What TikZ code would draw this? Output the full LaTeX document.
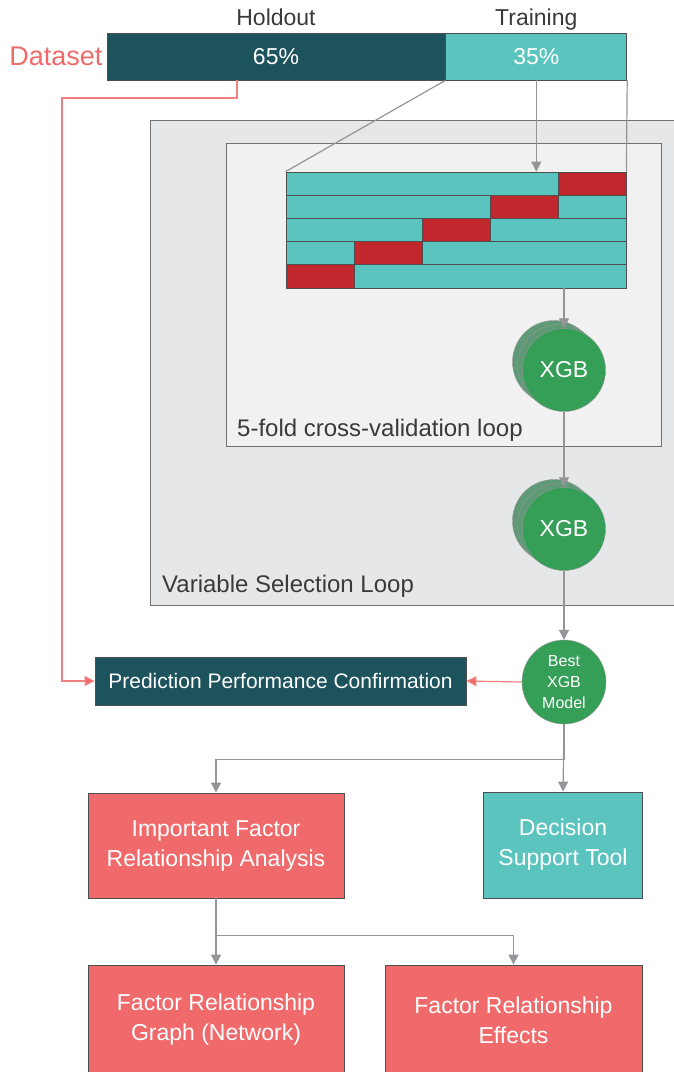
\documentclass[tikz,border=0pt]{standalone}
\usepackage{fontspec}
\setmainfont{Liberation Sans}
\usetikzlibrary{positioning,arrows.meta}
\definecolor{holdcol}{HTML}{1D535C}
\definecolor{traincol}{HTML}{5BC4BE}
\definecolor{foldcol}{HTML}{C1272D}
\definecolor{factcol}{HTML}{F06A6B}
\definecolor{xgbcol}{HTML}{359E57}
\definecolor{xgbback}{HTML}{5E9A75}
\definecolor{outercol}{HTML}{E6E7E9}
\definecolor{innercol}{HTML}{F1F1F1}
\definecolor{linecol}{HTML}{939598}
\definecolor{edgecol}{HTML}{4D4E50}
\definecolor{labelcol}{HTML}{3A3A3A}
\tikzset{barnode/.style={draw=edgecol, thick, text=white, font=\fontsize{23}{26}\selectfont, minimum height=47pt, inner sep=0pt},
toplabel/.style={text=labelcol, font=\fontsize{23}{26}\selectfont, text height=17pt, text depth=5pt, inner sep=0pt},
fold/.style={draw=edgecol, thick, minimum width=68pt, minimum height=23.2pt, inner sep=0pt},
loopbox/.style={draw=edgecol!80, thick, inner sep=0pt},
looptext/.style={text=labelcol, font=\fontsize{24}{26}\selectfont, inner sep=0pt},
xgbnode/.style={circle, draw=edgecol!60, fill=xgbcol, text=white, minimum size=83pt, inner sep=0pt, font=\fontsize{23}{26}\selectfont},
flowbox/.style={draw=edgecol, thick, text=white, align=center, inner sep=0pt, font=\fontsize{23}{30}\selectfont},
grayline/.style={draw=linecol, line width=1.2pt},
grayarrow/.style={draw=linecol, line width=1.2pt, -{Triangle[width=10pt,length=10pt]}},
redarrow/.style={draw=factcol!85, line width=1.2pt, -{Triangle[width=10pt,length=10pt,fill=factcol]}},}
\begin{document}
\begin{tikzpicture}[x=1pt,y=-1pt]
\useasboundingbox (0,0) rectangle (673,1072);
\node [loopbox, fill=outercol, minimum width=540pt, minimum height=485pt] (varloop) at (420,362.5) {};
\node [loopbox, fill=innercol, minimum width=435pt, minimum height=303pt] (cvloop) at (443.5,294.5) {};
\node [looptext, anchor=base west] (cvtext) at (237,436) {5-fold cross-validation loop};
\node [looptext, anchor=base west] (vartext) at (162,592) {Variable Selection Loop};

\node [barnode, fill=holdcol, minimum width=338pt] (hold) at (276,56.5) {65\%};
\node [barnode, fill=traincol, minimum width=181pt, right=0pt of hold] (train) {35\%};
\node [toplabel, above=2pt of hold] (holdlbl) {Holdout};
\node [toplabel, above=2pt of train] (trainlbl) {Training};
\node [text=factcol, font=\fontsize{27}{30}\selectfont, inner sep=0pt, left=4pt of hold] (datalbl) {Dataset};

\foreach \r in {1,...,5}{
  \node [fold, fill=traincol, minimum width=340pt] (cv\r) at (456,160.4+23.2*\r) {};
  \node [fold, fill=foldcol] (red\r) at (252+68*6-68*\r,160.4+23.2*\r) {};
}

\foreach \k/\d in {1/10,2/5}{
  \node [xgbnode, fill=xgbback] (xgbAb\k) at (564-\d,370-0.8*\d) {};
  \node [xgbnode, fill=xgbback] (xgbBb\k) at (564-\d,529-0.8*\d) {};
}
\node [xgbnode] (xgbA) at (564,370) {XGB};
\node [xgbnode] (xgbB) at (564,529) {XGB};
\node [xgbnode, minimum size=84pt, align=center, font=\fontsize{16}{21}\selectfont] (best) at (564,682) {Best\\XGB\\Model};

\node [flowbox, fill=holdcol, minimum width=371pt, minimum height=48pt, font=\fontsize{21}{24}\selectfont] (pred) at (280.5,681) {Prediction Performance Confirmation};
\node [flowbox, fill=factcol, minimum width=256pt, minimum height=105pt] (ifra) at (216,845.5) {Important Factor\\Relationship Analysis};
\node [flowbox, fill=traincol, minimum width=159pt, minimum height=106pt] (dst) at (563,845) {Decision\\Support Tool};
\node [flowbox, fill=factcol, minimum width=256pt, minimum height=110pt] (frg) at (216,1020) {Factor Relationship\\Graph (Network)};
\node [flowbox, fill=factcol, minimum width=257pt, minimum height=110pt] (fre) at (513.5,1020) {Factor Relationship\\Effects};

\coordinate (holdturn) at (62,98);
\draw[grayline] (hold.south east) -- (cv1.north west);
\draw[grayline] (train.south east) -- (cv1.north east);
\draw[grayarrow] (train.south) -- (train.south |- cv1.north);
\draw[grayarrow] (cv5.south -| xgbA) -- (xgbA.north);
\draw[grayarrow] (xgbA.south) -- (xgbB.north);
\draw[grayarrow] (xgbB.south) -- (best.north);
\draw[redarrow] (best.west) -- (pred.east);
\draw[redarrow] ([xshift=-39pt]hold.south) |- (holdturn) |- (pred.west);
\draw[grayarrow] (best.south) -- (dst.north);
\draw[grayarrow] (best.south) -- ++(0,35) -| (ifra.north);
\draw[grayarrow] (ifra.south) -- (frg.north);
\draw[grayarrow] (ifra.south) -- ++(0,37) -| (fre.north);
\end{tikzpicture}
\end{document}
